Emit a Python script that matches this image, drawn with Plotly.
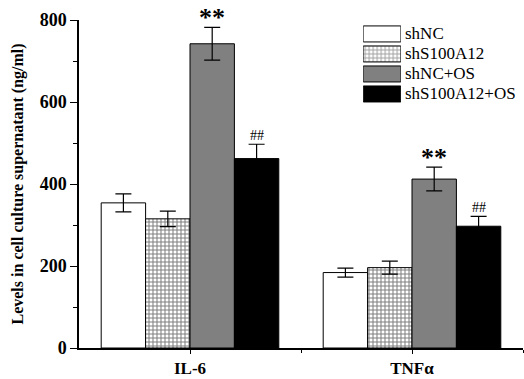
import plotly.graph_objects as go

categories = ["IL-6", "TNFα"]
series_names = ["shNC", "shS100A12", "shNC+OS", "shS100A12+OS"]
values = {
    "shNC": [354, 184],
    "shS100A12": [315, 196],
    "shNC+OS": [742, 412],
    "shS100A12+OS": [462, 297],
}
errors = {
    "shNC": [22, 11],
    "shS100A12": [19, 16],
    "shNC+OS": [40, 29],
    "shS100A12+OS": [35, 24],
}
marks = {"shNC+OS": "**", "shS100A12+OS": "##"}
fills = {"shNC": "white", "shS100A12": "white", "shNC+OS": "#808080", "shS100A12+OS": "black"}
patterns = {"shNC": "", "shS100A12": "+", "shNC+OS": "", "shS100A12+OS": ""}
y_ticks = [0, 200, 400, 600, 800]

x_idx = list(range(len(categories)))
offsets = [-0.3, -0.1, 0.1, 0.3]
FONT = "Liberation Serif, Times New Roman, serif"

fig = go.Figure()
for name in series_names:
    marker = dict(color=fills[name], line=dict(color="black", width=1))
    if patterns[name]:
        marker["pattern"] = dict(shape=patterns[name], fgcolor="black", bgcolor="white",
                                 size=4, solidity=0.45)
    fig.add_trace(go.Bar(
        name=name, x=x_idx, y=values[name], marker=marker, showlegend=False,
        error_y=dict(type="data", array=errors[name], color="black", thickness=1.2, width=8),
    ))

# custom legend swatches (large boxes as in the reference)
leg_idx = list(range(len(series_names)))
fig.add_trace(go.Bar(
    x=[1] * len(series_names), y=leg_idx, orientation="h", xaxis="x2", yaxis="y2",
    showlegend=False, hoverinfo="skip",
    marker=dict(
        color=[fills[n] for n in series_names],
        line=dict(color="black", width=1),
        pattern=dict(shape=[patterns[n] for n in series_names], fgcolor="black",
                     bgcolor="white", size=4, solidity=0.45),
    ),
))
for i, name in enumerate(series_names):
    fig.add_annotation(
        x=0.729, xref="paper", y=i, yref="y2", text=name, showarrow=False,
        xanchor="left", yanchor="middle",
        font=dict(family=FONT, size=17, color="black"),
    )

for name, txt in marks.items():
    i = series_names.index(name)
    for k in x_idx:
        top = values[name][k] + errors[name][k]
        big = txt == "**"
        fig.add_annotation(
            x=k + offsets[i], y=top, text=f"<b>{txt}</b>" if big else txt,
            showarrow=False, yanchor="bottom", yshift=-7 if big else -1,
            font=dict(family=FONT, size=26 if big else 14, color="black"),
        )

fig.update_layout(
    width=524, height=379,
    margin=dict(l=79, r=1, t=20, b=27),
    paper_bgcolor="white", plot_bgcolor="white",
    barmode="group", bargap=0.2, bargroupgap=0,
    font=dict(family=FONT, color="black"),
    showlegend=False,
    xaxis=dict(
        range=[-0.5, 1.5], tickvals=x_idx, ticktext=[f"<b>{c}</b>" for c in categories],
        showline=True, linecolor="black", linewidth=1.5, ticks="outside", ticklen=4,
        tickcolor="black", tickfont=dict(family=FONT, size=17, color="black"),
        minor=dict(tickvals=[0.5, 1.5], ticks="outside", ticklen=3, tickcolor="black"),
        showgrid=False, zeroline=False,
    ),
    yaxis=dict(
        range=[0, 800], tickvals=y_ticks, ticktext=[f"<b>{t}</b>" for t in y_ticks],
        showline=True, linecolor="black", linewidth=1.5, ticks="outside", ticklen=7,
        tickcolor="black", tickfont=dict(family=FONT, size=18, color="black"),
        minor=dict(dtick=100, ticks="outside", ticklen=4, tickcolor="black", showgrid=False),
        showgrid=False, zeroline=False,
        title=dict(text="<b>Levels in cell culture supernatant (ng/ml)</b>",
                   font=dict(family=FONT, size=16, color="black"), standoff=12),
    ),
    xaxis2=dict(domain=[0.640, 0.725], range=[0, 1], anchor="y2", visible=False,
                fixedrange=True),
    yaxis2=dict(domain=[0.744, 0.988], range=[3.5, -0.5], anchor="x2", visible=False,
                fixedrange=True),
)

fig.write_html("out.html", config={"displayModeBar": False},
               post_script="document.body.style.margin='0px';")
